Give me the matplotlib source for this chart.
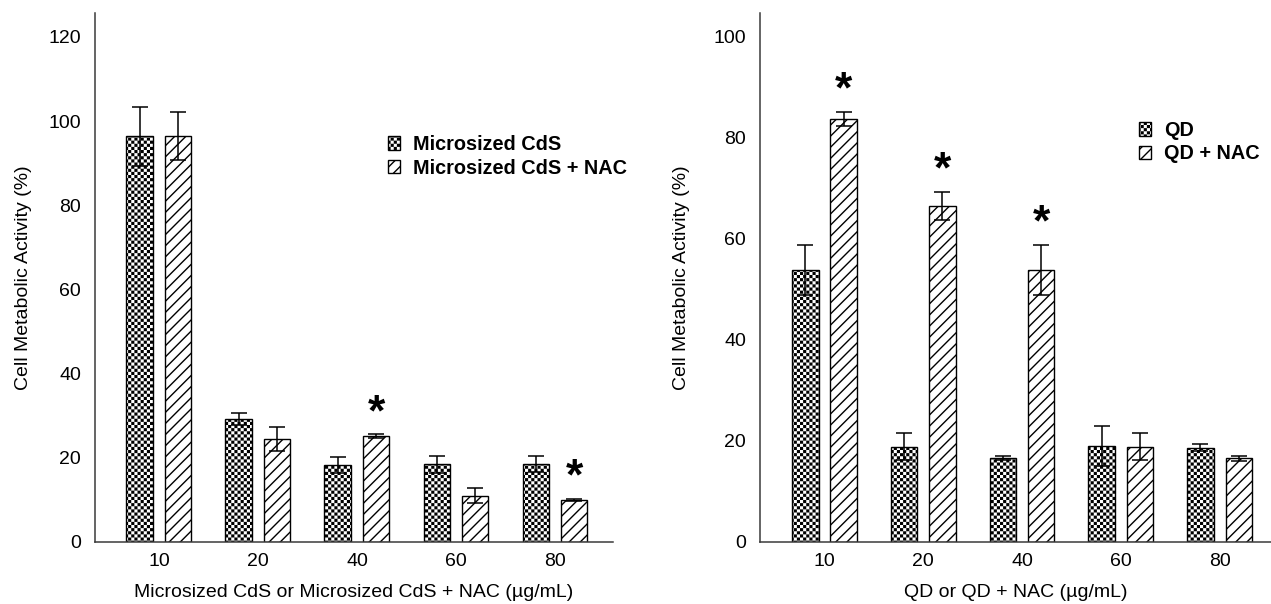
import numpy as np
import matplotlib
matplotlib.use("Agg")
import matplotlib.pyplot as plt
import matplotlib.hatch as mhatch
from matplotlib.path import Path

plt.rcParams["font.family"] = ["Liberation Sans", "DejaVu Sans"]
plt.rcParams["hatch.linewidth"] = 1.0

# data
concentrations = ["10", "20", "40", "60", "80"]

cds = [96.4, 29.2, 18.3, 18.5, 18.5]
cds_err = [7.0, 1.5, 1.8, 2.0, 1.9]
cds_nac = [96.4, 24.5, 25.1, 11.0, 10.0]
cds_nac_err = [5.7, 2.9, 0.5, 1.8, 0.2]
cds_nac_sig = [False, False, True, False, True]

qd = [53.9, 18.9, 16.6, 19.0, 18.7]
qd_err = [4.9, 2.7, 0.4, 4.0, 0.7]
qd_nac = [83.8, 66.5, 53.9, 18.9, 16.6]
qd_nac_err = [1.4, 2.8, 4.9, 2.7, 0.5]
qd_nac_sig = [True, True, True, False, False]


class CheckerHatch(mhatch.HatchPatternBase):
    """Filled checkerboard hatch, triggered by 'o' in the hatch string."""

    def __init__(self, hatch, density):
        self.num_cells = hatch.count("o") * 8
        n = self.num_cells
        self.num_vertices = 5 * (n * n // 2)
        # stroke of the hatch outline widens each square, compensate
        self.shrink = plt.rcParams["hatch.linewidth"] / 72.0

    def set_vertices_and_codes(self, vertices, codes):
        n = self.num_cells
        step = 1.0 / n
        half = 0.5 * max(step - self.shrink, step * 0.2)
        k = 0
        for i in range(n):
            for j in range(n):
                if (i + j) % 2:
                    continue
                cx, cy = (i + 0.5) * step, (j + 0.5) * step
                vertices[k:k + 5] = [
                    [cx - half, cy - half],
                    [cx + half, cy - half],
                    [cx + half, cy + half],
                    [cx - half, cy + half],
                    [cx - half, cy - half],
                ]
                codes[k:k + 5] = [Path.MOVETO, Path.LINETO, Path.LINETO,
                                  Path.LINETO, Path.CLOSEPOLY]
                k += 5


mhatch._hatch_types = [mhatch.NorthEastHatch, CheckerHatch]

CHECK = "oooo"
DIAG = "///"
SPINE = "#3a3a3a"


def draw_panel(ax, a, a_err, b, b_err, b_sig, labels, xlabel, ylim, yticks,
               xlim, legend_anchor, ylabel_x):
    x = np.arange(len(concentrations))
    width = 0.268
    off = 0.194
    err_kw = dict(ecolor="black", elinewidth=1.1, capsize=5.5, capthick=1.1)

    ax.bar(x - off, a, width, yerr=a_err, color="white", edgecolor="black",
           linewidth=1.0, hatch=CHECK, label=labels[0], error_kw=err_kw,
           zorder=2)
    ax.bar(x + off, b, width, yerr=b_err, color="white", edgecolor="black",
           linewidth=1.0, hatch=DIAG, label=labels[1], error_kw=err_kw,
           zorder=2)

    for xi, val, err, sig in zip(x, b, b_err, b_sig):
        if sig:
            ax.annotate("*", xy=(xi + off, val + err), xytext=(0, 15),
                        textcoords="offset points", ha="center", va="center",
                        fontsize=32, fontweight="bold")

    ax.set_xlim(*xlim)
    ax.set_ylim(*ylim)
    ax.set_xticks(x)
    ax.set_xticklabels(concentrations)
    ax.set_yticks(yticks)
    ax.tick_params(axis="both", length=0, labelsize=14)
    ax.tick_params(axis="x", pad=8)
    ax.tick_params(axis="y", pad=10)

    for side in ("top", "right"):
        ax.spines[side].set_visible(False)
    for side in ("left", "bottom"):
        ax.spines[side].set_color(SPINE)
        ax.spines[side].set_linewidth(1.1)

    ax.set_ylabel("Cell Metabolic Activity (%)", fontsize=14)
    ax.yaxis.set_label_coords(ylabel_x, 0.5)
    ax.set_xlabel(xlabel, fontsize=14, labelpad=10)

    ax.legend(loc="upper left", bbox_to_anchor=legend_anchor, frameon=False,
              borderpad=0, borderaxespad=0, handlelength=0.6,
              handleheight=0.68, handletextpad=0.65, labelspacing=0.22,
              prop={"size": 14.3, "weight": "bold"})


fig = plt.figure(figsize=(12.71, 6.04), dpi=100)

ax_left = fig.add_axes([95 / 1271, 1 - 542 / 604, 518 / 1271, 529 / 604])
ax_right = fig.add_axes([760 / 1271, 1 - 542 / 604, 511 / 1271, 529 / 604])

draw_panel(ax_left, cds, cds_err, cds_nac, cds_nac_err, cds_nac_sig,
           ["Microsized CdS", "Microsized CdS + NAC"],
           "Microsized CdS or Microsized CdS + NAC (\u00b5g/mL)",
           (0, 125.7), np.arange(0, 121, 20), (-0.646, 4.586),
           (0.566, 0.769), -0.122)

draw_panel(ax_right, qd, qd_err, qd_nac, qd_nac_err, qd_nac_sig,
           ["QD", "QD + NAC"],
           "QD or QD + NAC (\u00b5g/mL)",
           (0, 104.75), np.arange(0, 101, 20), (-0.653, 4.52),
           (0.742, 0.796), -0.137)

fig.savefig("out.png", dpi=100)
plt.close(fig)
